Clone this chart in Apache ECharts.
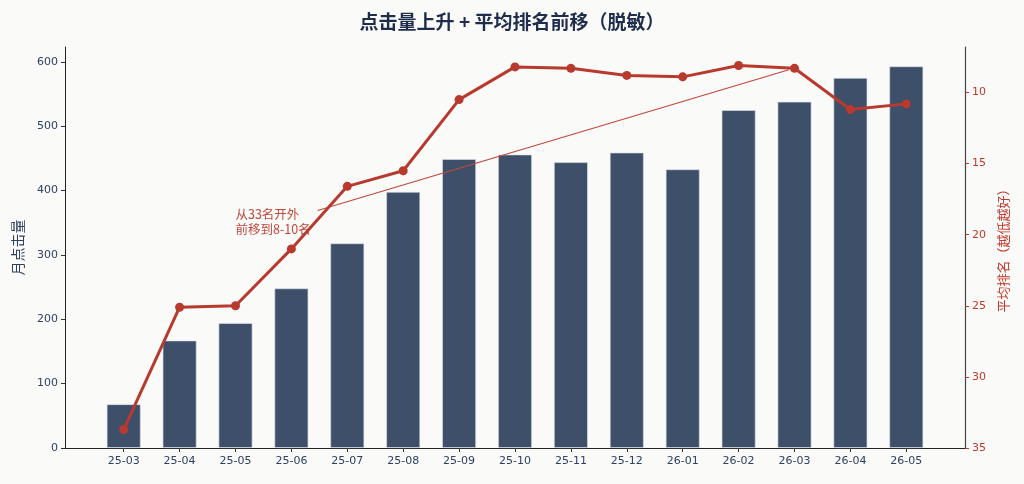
<!DOCTYPE html>
<html>
<head>
<meta charset="utf-8">
<script src="https://cdn.jsdelivr.net/npm/echarts@6/dist/echarts.min.js"></script>
<style>
  html, body { margin: 0; padding: 0; background: #fafaf8; }
  #main { width: 1024px; height: 484px; }
</style>
</head>
<body>
<div id="main"></div>
<script type="text/javascript">
// 月份
var months = ['25-03', '25-04', '25-05', '25-06', '25-07', '25-08', '25-09', '25-10',
              '25-11', '25-12', '26-01', '26-02', '26-03', '26-04', '26-05'];
// 月点击量
var clicks = [68, 167, 194, 248, 318, 398, 449, 456, 444, 459, 433, 525, 538, 575, 593];
// 平均排名
var ranks = [33.7, 25.1, 25.0, 21.0, 16.6, 15.5, 10.5, 8.2, 8.3, 8.8, 8.9, 8.1, 8.3, 11.2, 10.8];
// 刻度
var clickTicks = [0, 100, 200, 300, 400, 500, 600];
var rankTicks = [10, 15, 20, 25, 30, 35];
var monthIdx = months.map(function (m, i) { return i; });

var navy = '#2f4063';
var red = '#b83a2e';

(function () {
    var myChart = echarts.init(document.getElementById('main'));

    var barData = clicks.map(function (v, i) { return [i, v]; });
    var lineData = ranks.map(function (v, i) { return [i, v]; });

    var option = {
        backgroundColor: '#fafaf8',
        animation: false,
        title: {
            text: '点击量上升 + 平均排名前移（脱敏）',
            left: 'center',
            top: 7,
            textStyle: {
                fontFamily: 'Noto Sans CJK SC',
                fontSize: 19,
                fontWeight: 'bold',
                color: '#1f2d4d'
            }
        },
        grid: { left: 65, right: 59, top: 47, bottom: 36 },
        xAxis: {
            type: 'value',
            min: -1.05,
            max: 15.05,
            splitLine: { show: false },
            axisLine: { show: true, onZero: false, lineStyle: { color: '#222', width: 1 } },
            axisTick: { show: true, customValues: monthIdx, length: 4, lineStyle: { color: '#333' } },
            axisLabel: {
                customValues: monthIdx,
                formatter: function (v) { return months[Math.round(v)]; },
                color: navy,
                fontFamily: 'DejaVu Sans',
                fontSize: 11,
                margin: 8
            }
        },
        yAxis: [
            {
                type: 'value',
                min: 0,
                max: 623,
                name: '月点击量',
                nameLocation: 'middle',
                nameGap: 40,
                nameTextStyle: { color: navy, fontFamily: 'Noto Sans CJK SC', fontSize: 14 },
                splitLine: { show: false },
                axisLine: { show: true, onZero: false, lineStyle: { color: '#222', width: 1 } },
                axisTick: { show: true, customValues: clickTicks, length: 4, lineStyle: { color: '#333' } },
                axisLabel: {
                    customValues: clickTicks,
                    color: navy,
                    fontFamily: 'DejaVu Sans',
                    fontSize: 11,
                    margin: 7
                }
            },
            {
                type: 'value',
                position: 'right',
                inverse: true,
                min: 6.8,
                max: 35,
                name: '平均排名（越低越好）',
                nameLocation: 'middle',
                nameGap: 31,
                nameRotate: 90,
                nameTextStyle: { color: '#c0392b', fontFamily: 'Noto Sans CJK SC', fontSize: 13 },
                splitLine: { show: false },
                axisLine: { show: true, onZero: false, lineStyle: { color: '#444', width: 1.2 } },
                axisTick: { show: true, customValues: rankTicks, length: 4, lineStyle: { color: '#c0392b' } },
                axisLabel: {
                    customValues: rankTicks,
                    color: '#c0392b',
                    fontFamily: 'DejaVu Sans',
                    fontSize: 11,
                    margin: 7
                }
            }
        ],
        series: [
            {
                name: '月点击量',
                type: 'bar',
                yAxisIndex: 0,
                barWidth: 34,
                data: barData,
                itemStyle: {
                    color: '#3e4f6a',
                    borderColor: 'rgba(220,225,235,0.8)',
                    borderWidth: 0.8
                },
                z: 2
            },
            {
                name: '平均排名',
                type: 'line',
                yAxisIndex: 1,
                data: lineData,
                symbol: 'circle',
                symbolSize: 9,
                lineStyle: { color: red, width: 3 },
                itemStyle: { color: red },
                z: 5,
                markLine: {
                    silent: true,
                    symbol: ['none', 'arrow'],
                    symbolSize: [0, 7],
                    lineStyle: { color: '#c0483c', width: 1.2, type: 'solid' },
                    label: { show: false },
                    data: [
                        [{ coord: [3.47, 18.3] }, { coord: [11.9, 8.4] }]
                    ]
                },
                markPoint: {
                    silent: true,
                    symbol: 'circle',
                    symbolSize: 0,
                    data: [{ coord: [2.0, 19.1] }],
                    label: {
                        show: true,
                        position: 'right',
                        distance: 0,
                        formatter: '从33名开外\n前移到8-10名',
                        color: '#c0483c',
                        fontFamily: 'Noto Sans CJK SC',
                        fontSize: 12.5,
                        lineHeight: 15,
                        align: 'left'
                    }
                }
            }
        ]
    };

    myChart.setOption(option);
})();
</script>
</body>
</html>
